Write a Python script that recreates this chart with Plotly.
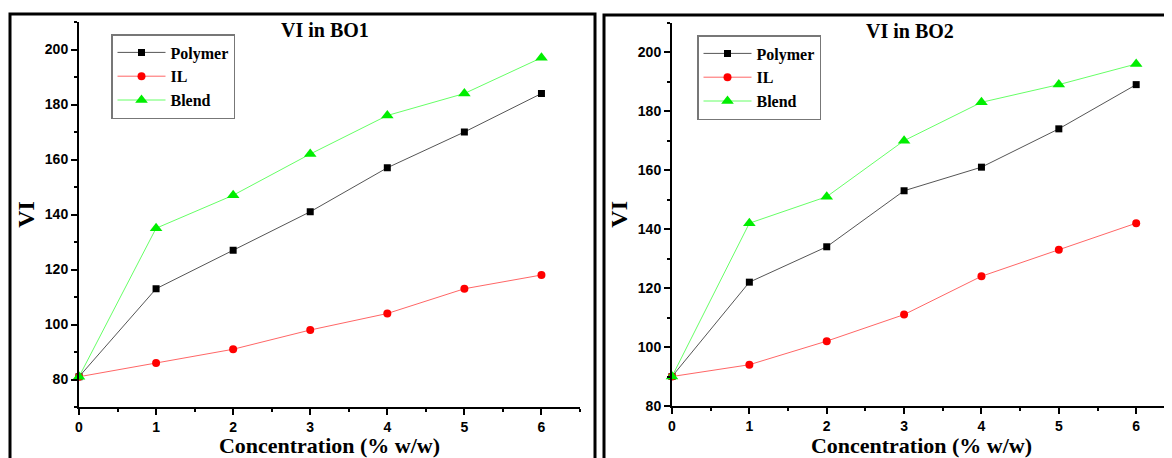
import plotly.graph_objects as go

conc = [0, 1, 2, 3, 4, 5, 6]

bo1_polymer = [81, 113, 127, 141, 157, 170, 184]
bo1_il = [81, 86, 91, 98, 104, 113, 118]
bo1_blend = [81, 135, 147, 162, 176, 184, 197]

bo2_polymer = [90, 122, 134, 153, 161, 174, 189]
bo2_il = [90, 94, 102, 111, 124, 133, 142]
bo2_blend = [90, 142, 151, 170, 183, 189, 196]

series_names = ["Polymer", "IL", "Blend"]
titles = ["VI in BO1", "VI in BO2"]

# page has an 8px body margin; the figure fills the rest of the window
OFF = 8
W, H = 1172 - OFF, 458 - OFF
def px(x):
    return (x - OFF) / W
def py(y):
    return (458 - y) / H

SERIF = "Liberation Serif"
SANS = "Liberation Sans"

styles = {
    "Polymer": dict(line=dict(color="#555555", width=1), marker=dict(symbol="square", size=7, color="black")),
    "IL": dict(line=dict(color="#ff6666", width=1), marker=dict(symbol="circle", size=8, color="#ff0000")),
    "Blend": dict(line=dict(color="#66ff66", width=1), marker=dict(symbol="triangle-up", size=11, color="#00ee00")),
}

fig = go.Figure()

panels = [
    (bo1_polymer, bo1_il, bo1_blend, "x", "y", "legend"),
    (bo2_polymer, bo2_il, bo2_blend, "x2", "y2", "legend2"),
]
for vals_p, vals_i, vals_b, xa, ya, lg in panels:
    for name, vals in zip(series_names, [vals_p, vals_i, vals_b]):
        st = styles[name]
        fig.add_trace(go.Scatter(
            x=conc, y=vals, name=name, mode="lines+markers",
            line=st["line"], marker=st["marker"], xaxis=xa, yaxis=ya,
            legend=lg, cliponaxis=False,
        ))

tickfont = dict(family=SANS, size=14, color="black", weight="bold")
titlefont = dict(family=SERIF, size=22, color="black", weight="bold")

def xaxis_cfg(domain, rng):
    return dict(
        domain=domain, range=rng, showline=True, linecolor="black", linewidth=2, automargin=False,
        ticks="outside", ticklen=6, tickwidth=2, tickcolor="black", dtick=1, tick0=0,
        minor=dict(ticks="outside", ticklen=3, tickwidth=2, tickcolor="black", dtick=0.5),
        showgrid=False, zeroline=False, tickfont=tickfont,
        title=dict(text="Concentration (% w/w)", font=titlefont, standoff=3),
    )

def yaxis_cfg(domain, rng, anchor):
    return dict(
        domain=domain, range=rng, anchor=anchor, showline=True, linecolor="black", linewidth=2,
        automargin=False,
        ticks="outside", ticklen=6, tickwidth=2, tickcolor="black", dtick=20, tick0=0,
        minor=dict(ticks="outside", ticklen=3, tickwidth=2, tickcolor="black", dtick=10),
        showgrid=False, zeroline=False, tickfont=tickfont,
        title=dict(text="VI", font=dict(family=SERIF, size=24, color="black", weight="bold"), standoff=3),
    )

legend_cfg = dict(
    bgcolor="white", bordercolor="#777777", borderwidth=1.5,
    font=dict(family=SERIF, size=16, color="black", weight="bold"),
    xanchor="left", yanchor="top", tracegroupgap=0, itemwidth=48,
)

fig.update_layout(
    width=W, height=H, margin=dict(l=0, r=0, t=0, b=0, autoexpand=False),
    paper_bgcolor="white", plot_bgcolor="white", showlegend=True,
    xaxis=xaxis_cfg([px(79), px(580)], [0, 6.5]),
    yaxis=yaxis_cfg([py(407), py(22)], [70, 210], "x"),
    xaxis2=xaxis_cfg([px(672), px(1171)], [0, 6.45]) | dict(anchor="y2"),
    yaxis2=yaxis_cfg([py(406), py(22.7)], [80, 210], "x2"),
    legend=legend_cfg | dict(x=px(111), y=py(34)),
    legend2=legend_cfg | dict(x=px(697), y=py(35)),
)

fig.add_annotation(text=titles[0], x=px(325), y=py(30), xref="paper", yref="paper",
                   xanchor="center", yanchor="middle", showarrow=False,
                   font=dict(family=SERIF, size=20, color="black", weight="bold"))
fig.add_annotation(text=titles[1], x=px(910), y=py(31), xref="paper", yref="paper",
                   xanchor="center", yanchor="middle", showarrow=False,
                   font=dict(family=SERIF, size=20, color="black", weight="bold"))

fig.add_shape(type="rect", xref="paper", yref="paper", x0=px(10), x1=px(595), y0=-0.1, y1=py(14),
              line=dict(color="black", width=3))
fig.add_shape(type="rect", xref="paper", yref="paper", x0=px(604), x1=1.05, y0=-0.1, y1=py(15),
              line=dict(color="black", width=3))

fig.write_html("out.html")
